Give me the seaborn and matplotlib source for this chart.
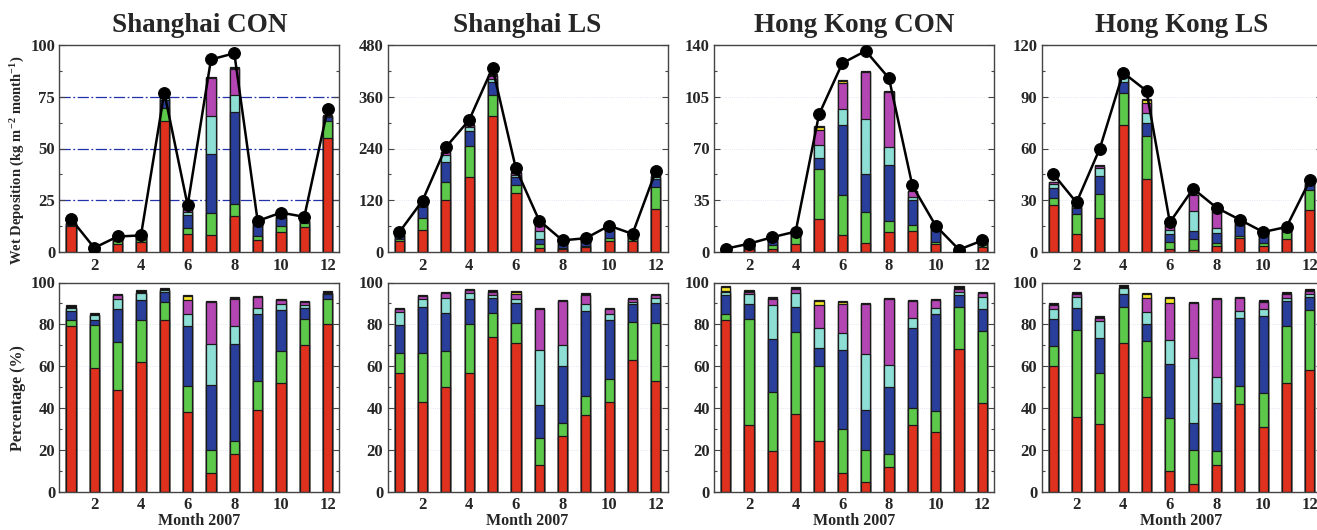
import numpy as np
import pandas as pd
import matplotlib
matplotlib.use("Agg")
import matplotlib.pyplot as plt
import seaborn as sns
from matplotlib.ticker import MultipleLocator, FixedLocator

# ---------------- data ----------------
months = list(range(1, 13))
month_ticks = [2, 4, 6, 8, 10, 12]
titles = ["Shanghai CON", "Shanghai LS", "Hong Kong CON", "Hong Kong LS"]
layer_names = ["red", "green", "blue", "cyan", "magenta", "yellow", "black"]
layer_colors = ["#E0301E", "#5DC94B", "#2A3E9C", "#8DDFD6", "#B446B4", "#F5E52A", "#111111"]

# monthly total wet deposition (kg m-2 month-1) -> black line with dots
sh_con_total = [16, 2, 7.5, 8, 77, 22.5, 93, 96, 15, 19, 17, 69]
sh_ls_total = [45.5, 119, 243, 306, 427, 194, 73, 27, 32, 61, 42, 188]
hk_con_total = [2.2, 5.6, 10, 13.8, 93, 127.7, 136, 117.5, 45, 17.8, 1.6, 7.8]
hk_ls_total = [45.3, 28.7, 60, 104, 93.4, 17.2, 36.7, 25.7, 18.7, 11.6, 14.5, 41.5]

# percentage contribution of each layer (rows = months 1..12,
# columns = red, green, blue, cyan, magenta, yellow, black)
sh_con_pct = [
    [79, 3, 4.5, 1.5, 0, 0, 1],
    [59, 20.5, 2.5, 2.5, 0, 0, 1],
    [48.5, 23, 16, 4.5, 2, 0, 0.5],
    [62, 20, 9.5, 3.5, 0, 0, 1.5],
    [82, 8.5, 5, 1, 0, 0, 1],
    [38, 12.5, 28.5, 6, 6.5, 2, 0.5],
    [9, 11, 31, 19.5, 20, 0, 0.5],
    [18, 6, 46.5, 8.5, 13, 0.5, 0.5],
    [39, 14, 32, 3, 5, 0, 0.5],
    [52, 15, 20, 2.5, 2, 0, 0.5],
    [70, 12.5, 5.5, 1, 1.5, 0, 0.5],
    [80, 12, 2.5, 0.5, 0, 0, 1],
]
sh_ls_pct = [
    [56.5, 10, 13, 6.5, 1.5, 0, 0.5],
    [43, 23.5, 22, 3.5, 1.5, 0, 0.5],
    [50, 17, 18.5, 7, 2.5, 0, 0.5],
    [56.5, 23.5, 12, 3, 1.5, 0, 0.5],
    [74, 11.5, 7, 1.5, 1.5, 0, 1],
    [71, 9.5, 9.5, 2, 2.5, 1, 0.5],
    [12.5, 13, 16, 26, 20, 0, 0.5],
    [26.5, 6.5, 27, 10, 21, 0, 0.5],
    [36.5, 9, 41, 3, 4.5, 0, 1],
    [43, 11, 28, 3, 2.5, 0, 0.5],
    [63, 18, 8.5, 1, 1.5, 0, 0.5],
    [53, 27.5, 9.5, 2.5, 1.5, 0, 0.5],
]
hk_con_pct = [
    [82, 3, 9, 1.5, 0.5, 1.7, 0.8],
    [32, 50.5, 7, 5, 1, 0, 1],
    [19.5, 28, 25.5, 16, 3, 0.5, 0.5],
    [37, 39.5, 12, 6.5, 2, 0, 1],
    [24, 36, 8.5, 9.5, 11, 2, 0.5],
    [9, 21, 37.5, 8.5, 13.5, 1, 0.5],
    [4.5, 15.5, 19, 27, 23.5, 0, 0.5],
    [11.5, 6.5, 32, 10.5, 31.5, 0, 0.5],
    [32, 8, 38, 5, 8, 0, 0.5],
    [28.5, 10, 46.5, 3, 3.5, 0, 0.5],
    [68, 20.5, 5.5, 1.5, 1.5, 0, 1.5],
    [42.5, 34.5, 10.5, 5.5, 1.8, 0, 0.7],
]
hk_ls_pct = [
    [60, 9.5, 13, 5, 1.5, 0, 1],
    [35.5, 42, 10.5, 5, 1.5, 0, 1],
    [32.5, 24, 17, 8, 1.5, 0, 1],
    [71, 17.5, 6, 3, 0, 0, 1.5],
    [45, 27, 8, 6, 6.5, 1.8, 0.7],
    [10, 25, 26, 11.5, 17.5, 2.5, 0.5],
    [3.5, 16.5, 13, 31, 26, 0, 0.5],
    [12.5, 7, 23, 12.5, 37, 0, 0.5],
    [42, 8.5, 32.5, 3.5, 6, 0, 0.5],
    [31, 16, 37, 3.5, 3, 0, 1],
    [52, 27, 12, 1.5, 2, 0, 1],
    [58, 29, 6, 1.5, 1.5, 0, 1],
]

totals = [sh_con_total, sh_ls_total, hk_con_total, hk_ls_total]
pcts = [sh_con_pct, sh_ls_pct, hk_con_pct, hk_ls_pct]
top_ymax = [100, 480, 140, 120]
top_ystep = [25, 120, 35, 30]

# ---------------- style ----------------
sns.set_theme(style="ticks")
plt.rcParams["font.family"] = ["Liberation Serif", "DejaVu Serif"]
plt.rcParams["font.weight"] = "bold"
plt.rcParams["axes.labelweight"] = "bold"
plt.rcParams["axes.titleweight"] = "bold"
plt.rcParams["mathtext.fontset"] = "custom"
plt.rcParams["mathtext.rm"] = "Liberation Serif:bold"
plt.rcParams["mathtext.bf"] = "Liberation Serif:bold"
plt.rcParams["mathtext.default"] = "bf"
plt.rcParams["axes.edgecolor"] = "#444444"
plt.rcParams["axes.linewidth"] = 1.0

W, H = 1317, 530
fig = plt.figure(figsize=(W / 100, H / 100), dpi=100)

lefts_px = [59.3, 387.5, 714.0, 1041.5]
width_px = 280.0
top_row = (45.0, 252.0)
bot_row = (282.5, 491.5)


def px_axes(left, top, bottom):
    return fig.add_axes([left / W, 1 - bottom / H, width_px / W, (bottom - top) / H])


def draw_stack(ax, arr):
    cum = np.cumsum(np.asarray(arr, dtype=float), axis=1)
    for k in range(cum.shape[1] - 1, -1, -1):
        df = pd.DataFrame({"month": months, "value": cum[:, k]})
        sns.barplot(data=df, x="month", y="value", native_scale=True, orient="x",
                    width=0.4, color=layer_colors[k], saturation=1,
                    edgecolor="#1a1a1a", linewidth=0.9, errorbar=None,
                    ax=ax, zorder=2)


def style_axes(ax, ymax, ystep, grid_style):
    ax.set_xlim(0.5, 12.5)
    ax.set_ylim(0, ymax)
    ax.xaxis.set_major_locator(FixedLocator(month_ticks))
    ax.set_xticklabels([str(m) for m in month_ticks])
    ax.yaxis.set_major_locator(MultipleLocator(ystep))
    ax.yaxis.set_minor_locator(MultipleLocator(ystep / 2))
    ax.tick_params(axis="y", which="both", direction="in", right=True,
                   color="#444444", width=0.8, labelsize=12, pad=3)
    ax.tick_params(axis="y", which="major", length=4)
    ax.tick_params(axis="y", which="minor", length=2)
    ax.tick_params(axis="x", which="both", length=0, labelsize=12, pad=4)
    for lab in ax.get_xticklabels() + ax.get_yticklabels():
        lab.set_fontweight("bold")
    ax.set_xlabel("")
    ax.set_ylabel("")
    ax.set_axisbelow(True)
    if grid_style == "blue":
        for yv in np.arange(ystep, ymax, ystep):
            ax.axhline(yv, color="#2233AA", lw=0.9, ls=(0, (9, 2, 1.5, 2)), zorder=0.5)
    else:
        ax.yaxis.grid(True, color="#DCDFF0", lw=0.6, ls=":")
        ax.xaxis.grid(False)
    for sp in ax.spines.values():
        sp.set_visible(True)
        sp.set_color("#444444")


for i in range(4):
    pct = np.asarray(pcts[i], dtype=float)
    tot = np.asarray(totals[i], dtype=float)

    # --- top row: wet deposition ---
    ax = px_axes(lefts_px[i], *top_row)
    dep = pct * tot[:, None] / 100.0
    draw_stack(ax, dep)
    sns.lineplot(x=months, y=totals[i], color="black", marker="o", markersize=8.5,
                 markeredgecolor="black", linewidth=1.8, ax=ax, zorder=5)
    style_axes(ax, top_ymax[i], top_ystep[i], "blue" if i == 0 else "faint")
    ax.set_title(titles[i], fontsize=19.5, fontweight="bold", pad=9)

    # --- bottom row: percentage ---
    ax2 = px_axes(lefts_px[i], *bot_row)
    draw_stack(ax2, pct)
    style_axes(ax2, 100, 20, "faint")
    ax2.set_xlabel("Month 2007", fontsize=11.5, fontweight="bold", labelpad=0)

fig.text(18 / W, 1 - 160 / H, "Wet Deposition (kg m$^{-2}$ month$^{-1}$)",
         rotation=90, ha="center", va="center", fontsize=10.5, fontweight="bold")
fig.text(18 / W, 1 - 398 / H, "Percentage (%)",
         rotation=90, ha="center", va="center", fontsize=11.5, fontweight="bold")

fig.savefig("out.png", dpi=100)
